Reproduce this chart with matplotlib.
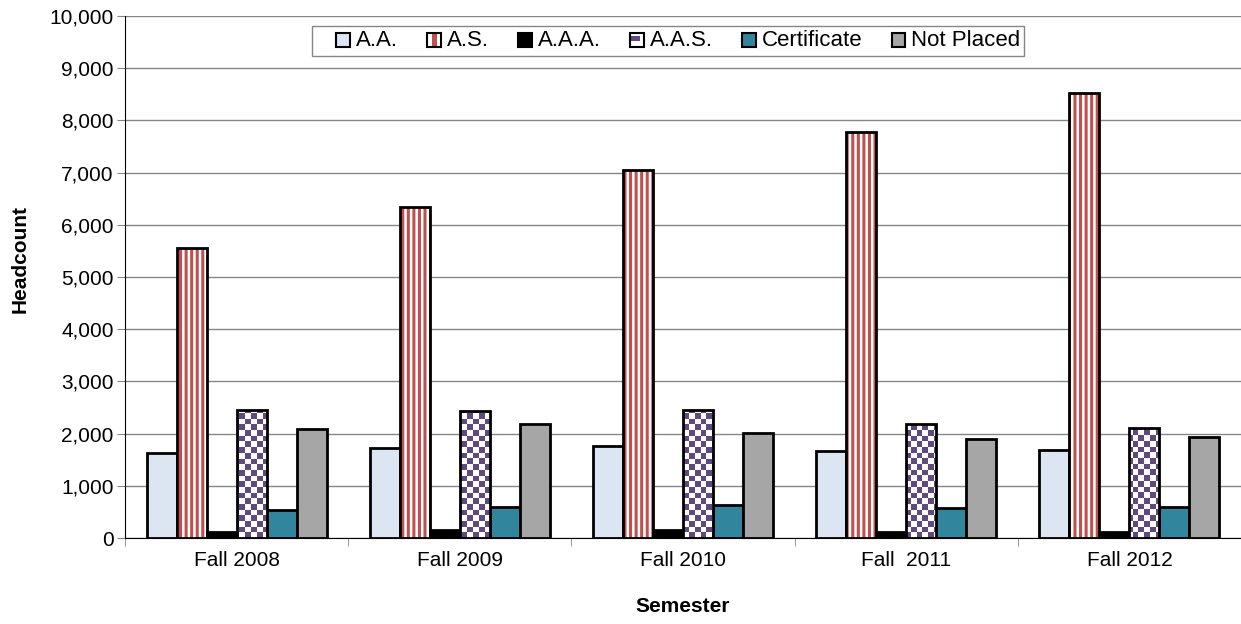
import numpy as np
import matplotlib.pyplot as plt
from matplotlib.patches import Rectangle
from matplotlib.legend_handler import HandlerBase
from matplotlib.ticker import FuncFormatter, FixedLocator
from matplotlib.colors import ListedColormap

plt.rcParams['font.family'] = ['Liberation Sans', 'DejaVu Sans']
plt.rcParams['hatch.linewidth'] = 2.2

semesters = ['Fall 2008', 'Fall 2009', 'Fall 2010', 'Fall  2011', 'Fall 2012']
series = ['A.A.', 'A.S.', 'A.A.A.', 'A.A.S.', 'Certificate', 'Not Placed']
aa = [1620, 1730, 1770, 1670, 1690]
a_s = [5550, 6350, 7050, 7780, 8520]
aaa = [120, 150, 150, 120, 110]
aas = [2450, 2430, 2450, 2180, 2110]
cert = [540, 600, 640, 570, 590]
not_placed = [2080, 2190, 2020, 1890, 1940]

c_aa = '#DCE6F2'
c_as = '#C0504D'
c_aaa = '#000000'
c_aas = '#604A7B'
c_cert = '#31859C'
c_np = '#A6A6A6'

fig = plt.figure(figsize=(12.41, 6.24), dpi=100)
ax = fig.add_axes([0.1007, 0.1378, 0.8993, 0.8366])

x = np.arange(len(semesters))
w = 0.1345
offs = (np.arange(6) - 2.5) * w
lw = 2.0

ax.bar(x + offs[0], aa, w, color=c_aa, edgecolor='black', linewidth=lw, zorder=3)
# striped bars: red hatch on white, then black outline on top
ax.bar(x + offs[1], a_s, w, facecolor='white', edgecolor=c_as, hatch='|||', linewidth=0, zorder=3)
ax.bar(x + offs[1], a_s, w, facecolor='none', edgecolor='black', linewidth=lw, zorder=4)
ax.bar(x + offs[2], aaa, w, color=c_aaa, edgecolor='black', linewidth=lw, zorder=3)
aas_bars = ax.bar(x + offs[3], aas, w, facecolor='white', edgecolor='black', linewidth=0, zorder=3)
ax.bar(x + offs[3], aas, w, facecolor='none', edgecolor='black', linewidth=lw, zorder=5)
ax.bar(x + offs[4], cert, w, color=c_cert, edgecolor='black', linewidth=lw, zorder=3)
ax.bar(x + offs[5], not_placed, w, color=c_np, edgecolor='black', linewidth=lw, zorder=3)

ax.set_xlim(-0.5, len(semesters) - 0.5)
ax.set_ylim(0, 10000)

# checkerboard texture for A.A.S. bars
nx, ny = 196, 92
checker = ((np.arange(ny)[:, None] + np.arange(nx)[None, :]) % 2).astype(float)
cmap = ListedColormap(['white', c_aas])
for b in aas_bars:
    im = ax.imshow(checker, cmap=cmap, extent=(-0.5, len(semesters) - 0.5, 0, 10000),
                   aspect='auto', interpolation='nearest', origin='lower', zorder=4)
    im.set_clip_path(b)

ax.set_yticks(np.arange(0, 10001, 1000))
ax.yaxis.set_major_formatter(FuncFormatter(lambda v, p: f'{int(v):,}'))
ax.grid(axis='y', color='#868686', linewidth=1.0, zorder=0)
ax.set_axisbelow(True)

ax.set_xticks(x)
ax.set_xticklabels(semesters, fontsize=15)
ax.tick_params(axis='x', which='major', length=0, pad=9)
ax.xaxis.set_minor_locator(FixedLocator(np.arange(-0.5, len(semesters), 1.0)))
ax.tick_params(axis='x', which='minor', length=6, color='#868686', direction='out')
ax.tick_params(axis='y', labelsize=15, length=6, color='#868686', direction='out', pad=2)

for s in ['top', 'right']:
    ax.spines[s].set_visible(False)
ax.spines['left'].set_color('black')
ax.spines['bottom'].set_color('black')

ax.set_xlabel('Semester', fontsize=15, fontweight='bold', labelpad=20)
ax.set_ylabel('Headcount', fontsize=15, fontweight='bold', labelpad=13)
ax.yaxis.set_label_coords(-0.085, 0.535)


class SwatchHandler(HandlerBase):
    def __init__(self, kind):
        super().__init__()
        self.kind = kind

    def create_artists(self, legend, orig, xd, yd, width, height, fontsize, trans):
        s = height
        x0 = xd + width - s
        arts = []
        if self.kind == 'as':
            arts.append(Rectangle((x0, yd), s, s, facecolor='white', edgecolor='none', transform=trans))
            arts.append(Rectangle((x0 + s * 0.33, yd), s * 0.34, s, facecolor=c_as, edgecolor='none', transform=trans))
        elif self.kind == 'aas':
            arts.append(Rectangle((x0, yd), s, s, facecolor='white', edgecolor='none', transform=trans))
            arts.append(Rectangle((x0, yd + s * 0.45), s * 0.7, s * 0.4, facecolor=c_aas, edgecolor='none', transform=trans))
        else:
            arts.append(Rectangle((x0, yd), s, s, facecolor=self.kind, edgecolor='none', transform=trans))
        arts.append(Rectangle((x0, yd), s, s, facecolor='none', edgecolor='black', linewidth=1.5, transform=trans))
        return arts


handles = [Rectangle((0, 0), 1, 1) for _ in series]
kinds = [c_aa, 'as', c_aaa, 'aas', c_cert, c_np]
leg = ax.legend(handles, series, handler_map={h: SwatchHandler(k) for h, k in zip(handles, kinds)},
                ncol=6, loc='upper center', bbox_to_anchor=(0.487, 0.981), borderaxespad=0,
                fontsize=16, frameon=True, fancybox=False, edgecolor='#868686', framealpha=1,
                handlelength=1.5, handleheight=0.58, handletextpad=0.25, columnspacing=0.45,
                borderpad=0.2)
leg.get_frame().set_linewidth(1.0)
leg.set_zorder(10)

plt.savefig('out.png', dpi=100)
